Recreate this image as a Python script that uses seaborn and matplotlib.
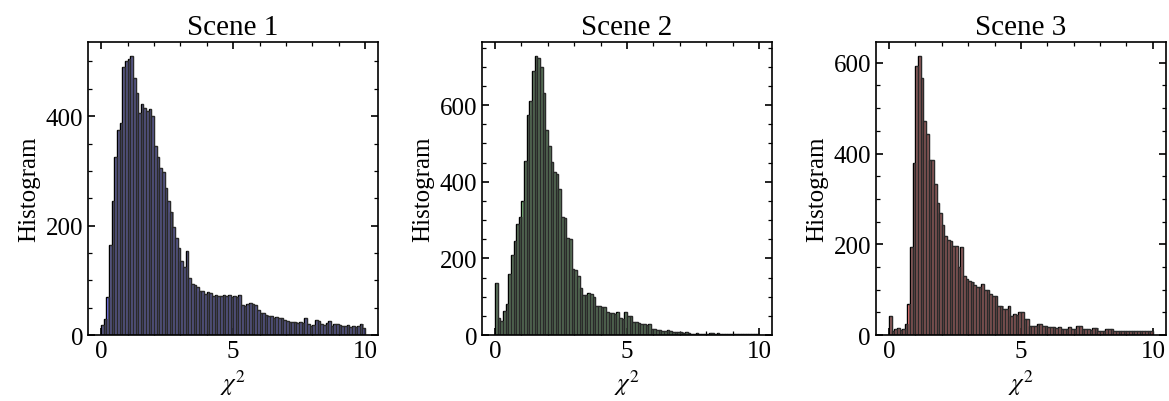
import numpy as np
import pandas as pd
import matplotlib
matplotlib.use("Agg")
import matplotlib.pyplot as plt
import seaborn as sns
from matplotlib.ticker import MultipleLocator

# counts per 0.1-wide chi^2 bin, 0..10
scene1_counts = [
    18, 30, 70, 165, 245, 325, 375, 388, 490, 500,
    505, 510, 470, 443, 405, 422, 415, 410, 413, 400,
    345, 325, 306, 298, 268, 245, 224, 197, 177, 160,
    135, 124, 154, 105, 93, 92, 88, 81, 80, 75,
    78, 77, 72, 73, 72, 71, 74, 72, 73, 70,
    72, 70, 73, 55, 54, 57, 58, 56, 55, 45,
    41, 40, 36, 35, 34, 32, 33, 32, 31, 28,
    25, 24, 23, 24, 22, 23, 22, 32, 20, 17,
    18, 27, 26, 20, 19, 22, 26, 17, 20, 21,
    19, 17, 16, 18, 15, 16, 14, 17, 20, 13,
]
scene2_counts = [
    135, 45, 38, 62, 80, 160, 210, 245, 290, 308,
    350, 455, 575, 610, 690, 728, 722, 700, 631, 535,
    492, 452, 426, 420, 382, 308, 305, 253, 250, 173,
    170, 155, 122, 105, 104, 110, 107, 100, 77, 76,
    74, 73, 59, 58, 57, 56, 59, 44, 43, 59,
    50, 49, 35, 34, 31, 30, 28, 27, 28, 16,
    16, 14, 14, 11, 11, 12, 10, 9, 9, 7,
    7, 6, 7, 6, 4, 4, 5, 4, 3, 3,
    3, 5, 5, 4, 5, 2, 3, 3, 2, 4,
    4, 4, 3, 2, 3, 3, 2, 3, 2, 3,
]
scene3_counts = [
    42, 10, 13, 15, 11, 14, 24, 68, 193, 380,
    592, 615, 566, 471, 444, 385, 385, 332, 292, 270,
    243, 218, 210, 207, 196, 196, 149, 193, 130, 123,
    120, 116, 110, 105, 105, 112, 100, 100, 90, 86,
    86, 64, 64, 57, 57, 64, 42, 46, 45, 51,
    51, 35, 35, 20, 21, 20, 24, 24, 20, 20,
    18, 17, 17, 16, 17, 13, 13, 14, 17, 13,
    13, 19, 19, 13, 13, 13, 12, 15, 15, 9,
    9, 9, 13, 13, 13, 8, 8, 9, 9, 10,
    8, 9, 9, 8, 9, 8, 9, 9, 8, 9,
]
scene_titles = ["Scene 1", "Scene 2", "Scene 3"]
scene_colors = ["b", "g", "r"]

bin_centers = np.arange(100) * 0.1 + 0.05

sns.set_style("ticks")
plt.rcParams["font.family"] = ["Liberation Serif", "DejaVu Serif"]
plt.rcParams["mathtext.fontset"] = "stix"
plt.rcParams["text.color"] = "k"
plt.rcParams["axes.labelcolor"] = "k"
plt.rcParams["xtick.color"] = "k"
plt.rcParams["ytick.color"] = "k"

fig, axes = plt.subplots(1, 3, figsize=(11.69, 4.02), dpi=100)
fig.subplots_adjust(left=0.0753, right=0.9975, top=0.893, bottom=0.164, wspace=0.357)

for ax, counts, title, color in zip(axes, [scene1_counts, scene2_counts, scene3_counts],
                                    scene_titles, scene_colors):
    df = pd.DataFrame({"chi2": bin_centers, "count": counts})
    sns.histplot(data=df, x="chi2", weights="count", binwidth=0.1, binrange=(0, 10),
                 color=color, alpha=0.5, edgecolor="k", linewidth=1.0, ax=ax)
    # grey overlay, nudged half a step so it peeks out at the bar tops
    df_shift = pd.DataFrame({"chi2": bin_centers + 0.04, "count": counts})
    sns.histplot(data=df_shift, x="chi2", weights="count", binwidth=0.1, binrange=(0.04, 10.04),
                 color="#474747", alpha=0.6, edgecolor="none", linewidth=0, ax=ax)
    ax.set_xlim(-0.5, 10.5)
    ax.set_title(title, fontsize=21)
    ax.set_xlabel(r"$\chi^2$", fontsize=18)
    ax.set_ylabel("Histogram", fontsize=18)
    ax.xaxis.set_major_locator(MultipleLocator(5))
    ax.xaxis.set_minor_locator(MultipleLocator(1))
    ax.yaxis.set_major_locator(MultipleLocator(200))
    ax.yaxis.set_minor_locator(MultipleLocator(50))
    ax.tick_params(which="both", direction="in", top=True, right=True, labelsize=18,
                   color="k", labelcolor="k")
    ax.tick_params(which="major", length=5, width=1.2)
    ax.tick_params(which="minor", length=3, width=0.9)
    for spine in ax.spines.values():
        spine.set_linewidth(1.2)
        spine.set_color("k")

fig.savefig("out.png", dpi=100)
